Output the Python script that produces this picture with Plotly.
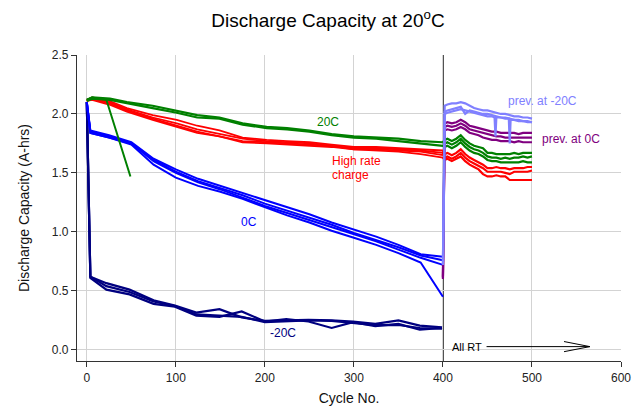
import plotly.graph_objects as go

# ---------------- data ----------------
cycles_0c = [0, 4, 25, 50, 75, 100, 125, 150, 175, 200, 225, 250, 275, 300, 325, 350, 375, 400]
cap_0c_a = [2.10, 1.86, 1.82, 1.76, 1.62, 1.53, 1.45, 1.39, 1.33, 1.27, 1.21, 1.15, 1.08, 1.02, 0.96, 0.89, 0.81, 0.79]
cap_0c_b = [2.10, 1.85, 1.81, 1.75, 1.61, 1.51, 1.43, 1.37, 1.31, 1.24, 1.18, 1.12, 1.06, 0.99, 0.93, 0.87, 0.80, 0.76]
cap_0c_c = [2.10, 1.84, 1.80, 1.75, 1.60, 1.50, 1.42, 1.36, 1.29, 1.22, 1.16, 1.10, 1.04, 0.98, 0.92, 0.85, 0.78, 0.72]
cap_0c_d = [2.10, 1.84, 1.80, 1.74, 1.57, 1.46, 1.39, 1.34, 1.28, 1.21, 1.14, 1.08, 1.01, 0.95, 0.89, 0.82, 0.74, 0.45]

cycles_m20 = [0, 4, 22, 48, 75, 99, 123, 149, 174, 200, 224, 249, 275, 299, 324, 350, 374, 399]
cap_m20_a = [2.10, 0.62, 0.565, 0.51, 0.42, 0.375, 0.315, 0.345, 0.275, 0.245, 0.25, 0.255, 0.25, 0.24, 0.22, 0.25, 0.205, 0.19]
cap_m20_b = [2.10, 0.61, 0.51, 0.47, 0.39, 0.365, 0.29, 0.28, 0.325, 0.24, 0.26, 0.24, 0.185, 0.235, 0.20, 0.22, 0.17, 0.185]
cap_m20_c = [2.10, 0.62, 0.54, 0.49, 0.41, 0.37, 0.30, 0.29, 0.28, 0.235, 0.24, 0.25, 0.245, 0.23, 0.21, 0.21, 0.185, 0.18]

cycles_20c = [0, 6, 26, 45, 74, 101, 124, 149, 175, 202, 225, 250, 275, 300, 325, 350, 375, 400]
cap_20c_a = [2.12, 2.14, 2.13, 2.10, 2.07, 2.03, 1.99, 1.97, 1.92, 1.89, 1.88, 1.86, 1.83, 1.81, 1.80, 1.79, 1.77, 1.76]
cap_20c_b = [2.11, 2.13, 2.12, 2.09, 2.05, 2.01, 1.97, 1.96, 1.91, 1.88, 1.87, 1.85, 1.82, 1.80, 1.79, 1.77, 1.75, 1.73]
cycles_20c_short = [0, 6, 22, 49]
cap_20c_short = [2.12, 2.14, 2.12, 1.47]

cycles_hr = [0, 6, 25, 45, 74, 101, 124, 149, 175, 202, 225, 250, 275, 300, 325, 350, 375, 400]
cap_hr_a = [2.12, 2.14, 2.11, 2.05, 1.99, 1.95, 1.90, 1.86, 1.80, 1.78, 1.77, 1.76, 1.74, 1.72, 1.72, 1.71, 1.70, 1.69]
cap_hr_b = [2.12, 2.13, 2.10, 2.04, 1.97, 1.92, 1.87, 1.83, 1.79, 1.77, 1.76, 1.75, 1.73, 1.71, 1.71, 1.70, 1.69, 1.67]
cap_hr_c = [2.11, 2.13, 2.09, 2.03, 1.96, 1.90, 1.85, 1.81, 1.77, 1.76, 1.75, 1.74, 1.73, 1.70, 1.70, 1.69, 1.68, 1.65]
cap_hr_d = [2.11, 2.12, 2.08, 2.02, 1.95, 1.89, 1.84, 1.81, 1.76, 1.75, 1.74, 1.73, 1.72, 1.70, 1.69, 1.68, 1.66, 1.63]

# after cycle 400, all at room temperature
cycles_rt = [400, 402, 405, 410, 415, 420, 425, 430, 435, 440, 445, 450, 455, 460, 465, 470, 475, 480, 485, 490, 495, 500]
cap_prev_m20_a = [0.75, 2.07, 2.08, 2.09, 2.09, 2.10, 2.09, 2.07, 2.05, 2.04, 2.03, 2.03, 2.02, 2.01, 2.00, 2.00, 1.99, 1.98, 1.98, 1.97, 1.97, 1.96]
cap_prev_m20_b = [0.73, 2.02, 2.03, 2.04, 2.05, 2.06, 2.00, 2.03, 2.02, 2.01, 2.00, 2.00, 1.99, 1.98, 1.97, 1.97, 1.96, 1.95, 1.95, 1.94, 1.94, 1.93]
cycles_rt_dips = [400, 402, 405, 410, 415, 420, 425, 430, 435, 440, 445, 450, 455, 458, 459, 460, 465, 470, 474, 475, 476, 480, 485, 490, 495, 500]
cap_prev_m20_c = [0.72, 2.00, 2.01, 2.02, 2.03, 2.04, 2.03, 2.02, 2.01, 2.00, 1.99, 1.98, 1.98, 1.97, 1.81, 1.97, 1.97, 1.96, 1.96, 1.75, 1.95, 1.95, 1.94, 1.94, 1.93, 1.93]

cap_prev_0c_a = [0.62, 1.92, 1.93, 1.92, 1.93, 1.95, 1.93, 1.90, 1.89, 1.88, 1.87, 1.86, 1.85, 1.85, 1.84, 1.84, 1.84, 1.84, 1.83, 1.84, 1.84, 1.84]
cap_prev_0c_b = [0.61, 1.89, 1.90, 1.89, 1.90, 1.92, 1.90, 1.87, 1.86, 1.85, 1.84, 1.83, 1.82, 1.81, 1.81, 1.80, 1.80, 1.80, 1.80, 1.80, 1.80, 1.80]
cap_prev_0c_c = [0.60, 1.86, 1.87, 1.86, 1.87, 1.89, 1.87, 1.84, 1.83, 1.82, 1.80, 1.79, 1.78, 1.78, 1.77, 1.77, 1.77, 1.76, 1.77, 1.76, 1.76, 1.76]

cap_rt_20c_a = [1.76, 1.78, 1.79, 1.77, 1.79, 1.82, 1.78, 1.75, 1.73, 1.72, 1.71, 1.67, 1.67, 1.66, 1.66, 1.66, 1.66, 1.67, 1.66, 1.67, 1.67, 1.67]
cap_rt_20c_b = [1.74, 1.75, 1.76, 1.74, 1.76, 1.79, 1.75, 1.72, 1.70, 1.69, 1.67, 1.64, 1.63, 1.63, 1.62, 1.63, 1.62, 1.63, 1.63, 1.64, 1.63, 1.64]
cap_rt_20c_c = [1.73, 1.72, 1.73, 1.71, 1.73, 1.76, 1.72, 1.69, 1.67, 1.66, 1.64, 1.61, 1.60, 1.60, 1.59, 1.59, 1.59, 1.59, 1.59, 1.60, 1.59, 1.59]

cap_rt_hr_a = [1.69, 1.66, 1.67, 1.65, 1.67, 1.70, 1.66, 1.63, 1.61, 1.59, 1.57, 1.54, 1.54, 1.55, 1.54, 1.54, 1.53, 1.54, 1.54, 1.54, 1.55, 1.55]
cap_rt_hr_b = [1.67, 1.63, 1.64, 1.62, 1.64, 1.67, 1.63, 1.60, 1.58, 1.56, 1.54, 1.51, 1.51, 1.51, 1.51, 1.50, 1.49, 1.51, 1.51, 1.51, 1.51, 1.52]
cap_rt_hr_c = [1.63, 1.61, 1.62, 1.60, 1.62, 1.64, 1.60, 1.57, 1.55, 1.53, 1.49, 1.47, 1.47, 1.48, 1.47, 1.47, 1.44, 1.44, 1.44, 1.44, 1.44, 1.44]

x_ticks = [0, 100, 200, 300, 400, 500, 600]
y_ticks = [0.0, 0.5, 1.0, 1.5, 2.0, 2.5]

# ---------------- styles ----------------
BLUE = "#0000FF"
NAVY = "#000080"
GREEN = "#008000"
RED = "#FF0000"
LIGHTBLUE = "#8080FF"
PURPLE = "#800080"
FONT = "Liberation Sans, Arial, sans-serif"

fig = go.Figure()

def add(x, y, color, width=2.2):
    fig.add_trace(go.Scatter(x=x, y=y, mode="lines", line=dict(color=color, width=width),
                             showlegend=False, hoverinfo="skip"))

for c in (cap_m20_a, cap_m20_b, cap_m20_c):
    add(cycles_m20, c, NAVY)
for c in (cap_0c_a, cap_0c_b, cap_0c_c, cap_0c_d):
    add(cycles_0c, c, BLUE, 2.0)
for c in (cap_hr_a, cap_hr_b, cap_hr_c, cap_hr_d):
    add(cycles_hr, c, RED, 1.8)
for c in (cap_20c_a, cap_20c_b):
    add(cycles_20c, c, GREEN)
add(cycles_20c_short, cap_20c_short, GREEN, 2.0)

for c in (cap_rt_hr_a, cap_rt_hr_b, cap_rt_hr_c):
    add(cycles_rt, c, RED)
for c in (cap_rt_20c_a, cap_rt_20c_b, cap_rt_20c_c):
    add(cycles_rt, c, GREEN)
for c in (cap_prev_0c_a, cap_prev_0c_b, cap_prev_0c_c):
    add(cycles_rt, c, PURPLE)
add(cycles_rt, cap_prev_m20_a, LIGHTBLUE)
add(cycles_rt, cap_prev_m20_b, LIGHTBLUE)
add(cycles_rt_dips, cap_prev_m20_c, LIGHTBLUE)

# vertical divider at cycle 400
fig.add_shape(type="line", xref="x", yref="paper", x0=400, x1=400, y0=0, y1=1,
              line=dict(color="black", width=1.5), layer="below")
# "All RT" arrow
fig.add_shape(type="line", xref="x", yref="y", x0=449, x1=565, y0=0.027, y1=0.027,
              line=dict(color="black", width=1))
fig.add_shape(type="path", xref="x", yref="y", path="M 536,0.070 L 565,0.027 L 536,-0.016",
              line=dict(color="black", width=1))

def label(text, x, y, color, xanchor="center", size=12):
    fig.add_annotation(text=text, x=x, y=y, xref="x", yref="y", showarrow=False,
                       xanchor=xanchor, align="left",
                       font=dict(color=color, size=size, family=FONT))

label("20C", 271, 1.93, GREEN)
label("High rate", 273, 1.603, RED, xanchor="left")
label("charge", 273, 1.485, RED, xanchor="left")
label("0C", 182, 1.085, BLUE)
label("-20C", 220, 0.144, NAVY)
label("prev. at -20C", 512, 2.106, LIGHTBLUE)
label("prev. at 0C", 544, 1.79, PURPLE)
label("All RT", 427, 0.027, "black", size=11)

axis_common = dict(showgrid=True, gridcolor="#D3D3D3", gridwidth=1, zeroline=False,
                   showline=True, linecolor="#333333", linewidth=1.2,
                   ticks="outside", ticklen=5, tickcolor="#333333",
                   tickfont=dict(size=12, family=FONT, color="#222222"))

fig.update_layout(
    width=643, height=416,
    margin=dict(l=77, r=22, t=55, b=55),
    paper_bgcolor="white", plot_bgcolor="white",
    font=dict(family=FONT, color="#111111"),
    title=dict(text="Discharge Capacity at 20<sup>o</sup>C", x=0.51, xref="container",
               xanchor="center", y=0.95, yref="container", yanchor="middle",
               font=dict(size=19, family=FONT, color="black")),
    xaxis=dict(range=[-11, 600], tickvals=x_ticks,
               title=dict(text="Cycle No.", standoff=9, font=dict(size=14, family=FONT, color="#111111")),
               **axis_common),
    yaxis=dict(range=[-0.095, 2.5], tickvals=y_ticks, tickformat=".1f",
               title=dict(text="Discharge Capacity (A-hrs)", standoff=18,
                          font=dict(size=14, family=FONT, color="#111111")),
               **axis_common),
)

fig.write_html("out.html")
